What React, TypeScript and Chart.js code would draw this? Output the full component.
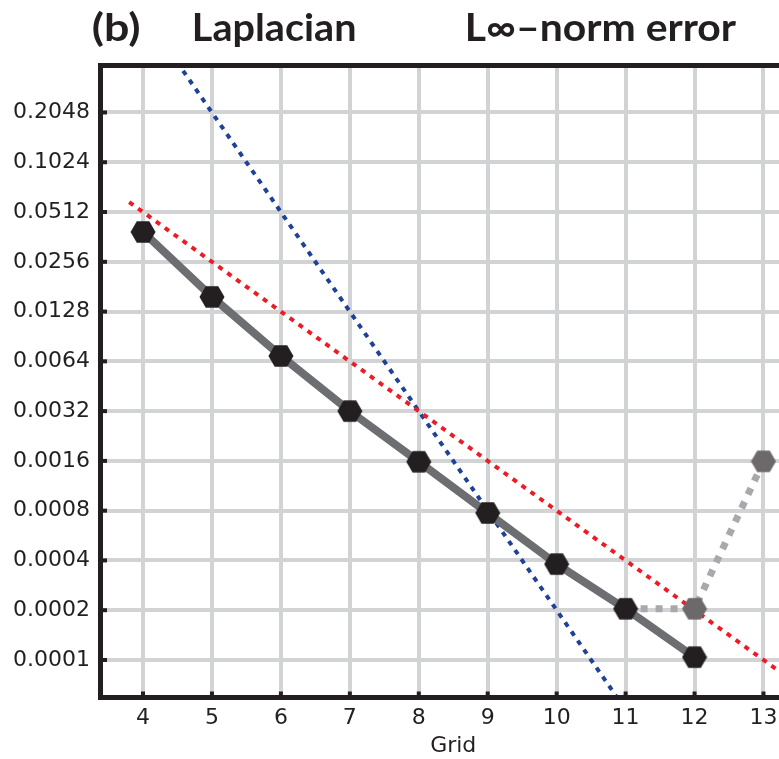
import React, { useEffect, useRef } from "react";
import { Chart, registerables } from "chart.js";

Chart.register(...registerables);

// ---- data ----
const gridSizes = [4, 5, 6, 7, 8, 9, 10, 11, 12];
const errorValues = [0.0388, 0.0157, 0.0069, 0.0032, 0.00158, 0.000775, 0.00038, 0.000204, 0.000104];

const divergedGrid = [11, 12, 13];
const divergedValues = [0.000204, 0.000204, 0.00159];

const secondOrderGrid = [3.8, 13.6];
const secondOrderValues = [0.0588, 0.000066];

const fourthOrderGrid = [4.4, 11];
const fourthOrderValues = [0.4705, 0.00005];

const xTicks = [4, 5, 6, 7, 8, 9, 10, 11, 12, 13];
const yTicks = [0.0001, 0.0002, 0.0004, 0.0008, 0.0016, 0.0032, 0.0064, 0.0128, 0.0256, 0.0512, 0.1024, 0.2048];
const yTickLabels = ["0.0001", "0.0002", "0.0004", "0.0008", "0.0016", "0.0032", "0.0064", "0.0128", "0.0256", "0.0512", "0.1024", "0.2048"];

const titleParts = ["(b)", "Laplacian", "L\u221E\u2013norm error"];
const xAxisTitle = "Grid";

const X_MIN = 3.3835;
const X_MAX = 13.6165;
const Y_MIN = 0.0000593;
const Y_MAX = 0.394;

const INK = "#231f20";
const GRID = "#d1d3d4";

function makeHex(fill: string): HTMLCanvasElement {
  const c = document.createElement("canvas");
  c.width = 26;
  c.height = 24;
  const g = c.getContext("2d")!;
  const r = 12.5;
  g.beginPath();
  for (let i = 0; i < 6; i++) {
    const a = (Math.PI / 3) * i;
    const px = 13 + r * Math.cos(a);
    const py = 12 + r * Math.sin(a);
    if (i === 0) g.moveTo(px, py);
    else g.lineTo(px, py);
  }
  g.closePath();
  g.fillStyle = fill;
  g.fill();
  return c;
}

export default function App() {
  const ref = useRef<HTMLCanvasElement>(null);

  useEffect(() => {
    const canvas = ref.current!;
    const hexBlack = makeHex("#231f20");
    const hexGrey = makeHex("#6d6869");

    const framePlugin = {
      id: "frame",
      afterDatasetsDraw(chart: any) {
        const ctx = chart.ctx as CanvasRenderingContext2D;
        const a = chart.chartArea;
        ctx.save();
        ctx.fillStyle = INK;
        // borders
        ctx.fillRect(a.left - 2.5, a.top - 2.5, chart.width, 5);
        ctx.fillRect(a.left - 2.5, a.bottom - 2.5, chart.width, 5);
        ctx.fillRect(a.left - 2.5, a.top - 2.5, 5, a.bottom - a.top + 5);
        // inner tick marks
        const ys = chart.scales.y;
        for (const t of ys.ticks) {
          const py = ys.getPixelForValue(t.value);
          ctx.fillRect(a.left + 2.5, py - 2, 4, 4);
        }
        const xs = chart.scales.x;
        for (const t of xs.ticks) {
          const px = xs.getPixelForValue(t.value);
          ctx.fillRect(px - 2, a.bottom - 6, 4, 4);
        }
        ctx.restore();
      },
      afterDraw(chart: any) {
        const ctx = chart.ctx as CanvasRenderingContext2D;
        const slots = [
          { x: 93, w: 47 },
          { x: 195, w: 160 },
          { x: 468, w: 269 },
        ];
        ctx.save();
        ctx.fillStyle = INK;
        ctx.font = "bold 38px Lato, 'DejaVu Sans', sans-serif";
        ctx.textBaseline = "alphabetic";
        ctx.textAlign = "left";
        titleParts.forEach((txt, i) => {
          const m = ctx.measureText(txt);
          const ink = m.actualBoundingBoxLeft + m.actualBoundingBoxRight;
          const sx = slots[i].w / ink;
          ctx.save();
          ctx.translate(slots[i].x + m.actualBoundingBoxLeft * sx, 41);
          ctx.scale(sx, 1);
          ctx.fillText(txt, 0, 0);
          ctx.restore();
        });
        ctx.restore();
      },
    };

    const tickFont = { family: "'DejaVu Sans', sans-serif", size: 22 };

    const chart = new Chart(canvas, {
      type: "line",
      data: {
        datasets: [
          {
            label: "error",
            data: gridSizes.map((x, i) => ({ x, y: errorValues[i] })),
            borderColor: "#6d6e71",
            borderWidth: 8,
            pointStyle: hexBlack as any,
            pointRadius: 12,
            borderJoinStyle: "round",
          },
          {
            label: "diverged",
            data: divergedGrid.map((x, i) => ({ x, y: divergedValues[i] })),
            borderColor: "#a7a9ac",
            borderWidth: 7,
            borderDash: [7, 8],
            pointStyle: hexGrey as any,
            pointRadius: [0, 12, 12] as any,
          },
          {
            label: "second order",
            data: secondOrderGrid.map((x, i) => ({ x, y: secondOrderValues[i] })),
            borderColor: "#ed1c24",
            borderWidth: 4,
            borderDash: [5, 6],
            pointRadius: 0,
          },
          {
            label: "fourth order",
            data: fourthOrderGrid.map((x, i) => ({ x, y: fourthOrderValues[i] })),
            borderColor: "#1f4196",
            borderWidth: 4,
            borderDash: [5, 6],
            pointRadius: 0,
          },
        ],
      },
      options: {
        animation: false,
        responsive: false,
        devicePixelRatio: 1,
        layout: { padding: { top: 65.5, right: 24, left: 0, bottom: 0 } },
        plugins: {
          legend: { display: false },
          title: { display: false },
          tooltip: { enabled: false },
        },
        scales: {
          x: {
            type: "linear",
            min: X_MIN,
            max: X_MAX,
            afterBuildTicks: (s: any) => {
              s.ticks = xTicks.map((v) => ({ value: v }));
            },
            afterFit: (s: any) => {
              s.height = 61.5;
            },
            grid: { color: GRID, lineWidth: 4, drawTicks: false },
            border: { display: false },
            ticks: { autoSkip: false, maxRotation: 0, padding: 8, font: tickFont, color: INK },
            title: { display: true, text: xAxisTitle, font: tickFont, color: INK, padding: { top: 0, bottom: 0 } },
          },
          y: {
            type: "logarithmic",
            min: Y_MIN,
            max: Y_MAX,
            afterBuildTicks: (s: any) => {
              s.ticks = yTicks.map((v) => ({ value: v }));
            },
            afterFit: (s: any) => {
              s.width = 100.5;
            },
            grid: { color: GRID, lineWidth: 4, drawTicks: false },
            border: { display: false },
            ticks: {
              autoSkip: false,
              padding: 10.5,
              font: tickFont,
              color: INK,
              callback: (_v: any, i: number) => yTickLabels[i],
            },
          },
        },
      } as any,
      plugins: [framePlugin],
    });

    return () => chart.destroy();
  }, []);

  return (
    <div
      style={{
        position: "fixed",
        left: 0,
        top: 0,
        width: 779,
        height: 759,
        overflow: "hidden",
        background: "#fff",
      }}
    >
      <canvas ref={ref} width={830} height={759} style={{ display: "block" }} />
    </div>
  );
}
